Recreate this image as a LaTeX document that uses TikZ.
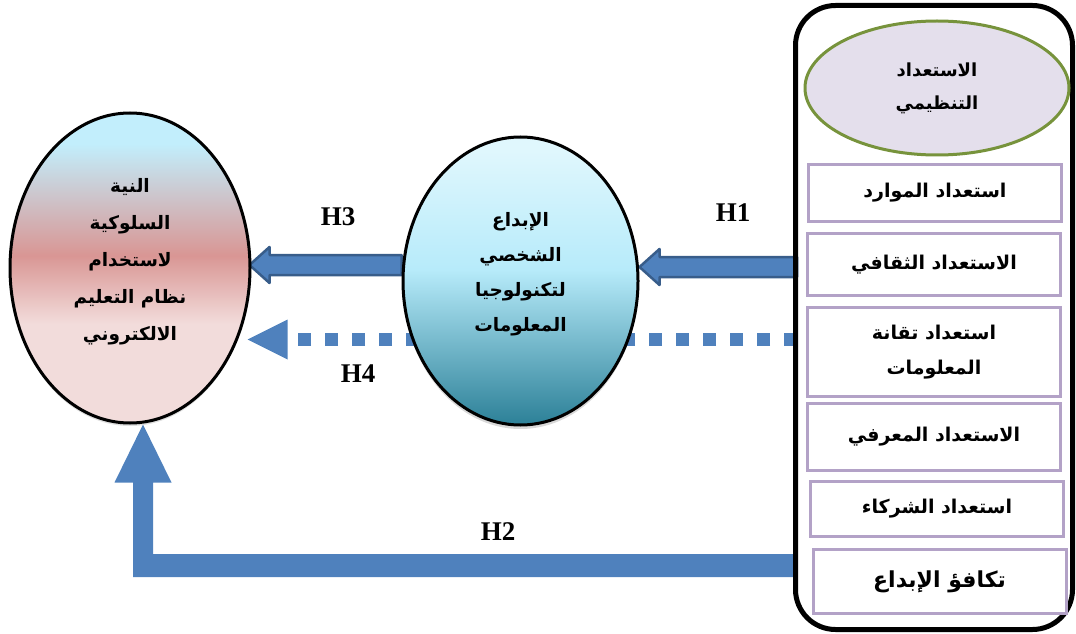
\documentclass[tikz,border=0pt]{standalone}
\usepackage{fontspec}
\usepackage{xcolor}
\usepackage{tikz}
\usetikzlibrary{positioning, shapes, arrows.meta, calc, fit, backgrounds}
\usetikzlibrary{shapes.geometric, shadows}

\TeXXeTstate=1
\newfontfamily\arfont[Script=Arabic]{DejaVu Sans}
\newfontfamily\hfont{Liberation Serif}
\newcommand{\artxt}[1]{\beginR#1\endR}

\definecolor{arrowblue}{HTML}{4F81BD}
\definecolor{arrowedge}{HTML}{385D8A}
\definecolor{boxlilac}{HTML}{B3A2C7}
\definecolor{ovalfill}{HTML}{E4DFEC}
\definecolor{ovalolive}{HTML}{77933C}
\definecolor{intcyan}{HTML}{C2EEFC}
\definecolor{intred}{HTML}{D99694}
\definecolor{intpink}{HTML}{F2DCDB}
\definecolor{crpale}{HTML}{E0F7FD}
\definecolor{crcyan}{HTML}{B7EBFA}
\definecolor{crteal}{HTML}{31849B}

\pgfdeclareverticalshading{intentshade}{100bp}{color(0bp)=(intpink); color(41bp)=(intpink); color(52bp)=(intred); color(70bp)=(intcyan); color(100bp)=(intcyan)}
\pgfdeclareverticalshading{creatshade}{100bp}{color(0bp)=(crteal); color(26bp)=(crteal); color(52bp)=(crcyan); color(73bp)=(crpale); color(100bp)=(crpale)}

\tikzset{
    bigoval/.style={ellipse, draw=black, line width=3pt, inner sep=0pt, align=center,
        font=\arfont\bfseries\fontsize{18.5}{37}\selectfont},
    readybox/.style={draw=boxlilac, line width=3pt, fill=white, minimum width=253pt,
        inner sep=0pt, align=center, font=\arfont\bfseries\fontsize{19}{35}\selectfont},
    hlabel/.style={font=\hfont\bfseries\fontsize{27}{30}\selectfont},
    blockar/.style={fill=arrowblue, draw=arrowedge, line width=2.5pt, line join=round},
    flowar/.style={fill=arrowblue},
    dotar/.style={draw=arrowblue, line width=13pt, dash pattern=on 13pt off 14pt,
        -{Triangle[length=40pt, width=40pt, line width=0pt]}}
}

\begin{document}
\begin{tikzpicture}[x=1pt, y=1pt]
    \useasboundingbox (0,0) rectangle (1076,633);

    \node[draw, line width=5pt, rounded corners=40pt, minimum width=277pt, minimum height=624pt, inner sep=0pt] (prep) at (934,315.5) {};
    \node[bigoval, draw=ovalolive, fill=ovalfill, minimum width=264pt, minimum height=134pt,
        font=\arfont\bfseries\fontsize{18}{33}\selectfont] (orgoval) at (937,545) {\artxt{الاستعداد}\\\artxt{التنظيمي}};

    \node[readybox, minimum height=57pt] (res) at (935,440) {\artxt{استعداد الموارد}};
    \node[readybox, minimum height=62pt] (cult) at (934,368.5) {\artxt{الاستعداد الثقافي}};
    \node[readybox, minimum height=89pt] (itr) at (934,281) {\artxt{استعداد تقانة}\\\artxt{المعلومات}};
    \node[readybox, minimum height=67pt] (know) at (934,196) {\artxt{الاستعداد المعرفي}};
    \node[readybox, minimum height=55pt] (part) at (937,124) {\artxt{استعداد الشركاء}};
    \node[readybox, minimum height=64pt, font=\arfont\bfseries\fontsize{22}{30}\selectfont] (equal) at (939.5,51.5) {\artxt{تكافؤ الإبداع}};

    \node[bigoval, shading=intentshade, minimum width=240pt, minimum height=310pt,
        drop shadow={opacity=0.25, shadow xshift=0pt, shadow yshift=-3pt}] (intent) at (130,365)
        {\raisebox{9pt}[\height][\depth]{\begin{tabular}{@{}c@{}}\artxt{النية}\\\artxt{السلوكية}\\\artxt{لاستخدام}\\\artxt{نظام التعليم}\\\artxt{الالكتروني}\end{tabular}}};
    \node[bigoval, shading=creatshade, minimum width=235pt, minimum height=288pt,
        font=\arfont\bfseries\fontsize{18.5}{35}\selectfont,
        drop shadow={opacity=0.3, shadow xshift=0pt, shadow yshift=-4pt}] (creat) at (520.5,352)
        {\raisebox{9pt}[\height][\depth]{\begin{tabular}{@{}c@{}}\artxt{الإبداع}\\\artxt{الشخصي}\\\artxt{لتكنولوجيا}\\\artxt{المعلومات}\end{tabular}}};

    \begin{scope}[on background layer]
        \coordinate (h1) at ($(creat.east)+(0,14)$);
        \draw[blockar] (h1) -- ++(20,18) -- ++(0,-8) -- ($(prep.west |- h1)+(4,10)$) -- ++(0,-20) -| ($(h1)+(20,-18)$) -- cycle;
        \coordinate (h3) at ($(intent.east)+(-2,3)$);
        \draw[blockar] (h3) -- ++(20,18) -- ++(0,-8) -- ($(creat.west |- h3)+(0,10)$) -- ++(0,-20) -| ($(h3)+(20,-18)$) -- cycle;
        \coordinate (h4) at ($(prep.west)+(4,-22)$);
        \draw[dotar] (h4) -- ($(intent.east |- h4)+(-4,0)$);
        \coordinate (h2) at ($(prep.west)+(4,-248)$);
        \fill[flowar] ($(intent.south)+(13,0)$) -- ++(28.5,-58) -- ++(-18.5,0) |- ($(h2)+(0,11.5)$)
            -- ($(h2)+(0,-11.5)$) -| ($(intent.south)+(3,-58)$) -- ++(-18.5,0) -- cycle;
    \end{scope}

    \node[hlabel] (lab1) at (733,420) {H1};
    \node[hlabel] (lab3) at (338,416) {H3};
    \node[hlabel] (lab4) at (358,259) {H4};
    \node[hlabel] (lab2) at (498,101) {H2};
\end{tikzpicture}
\end{document}
